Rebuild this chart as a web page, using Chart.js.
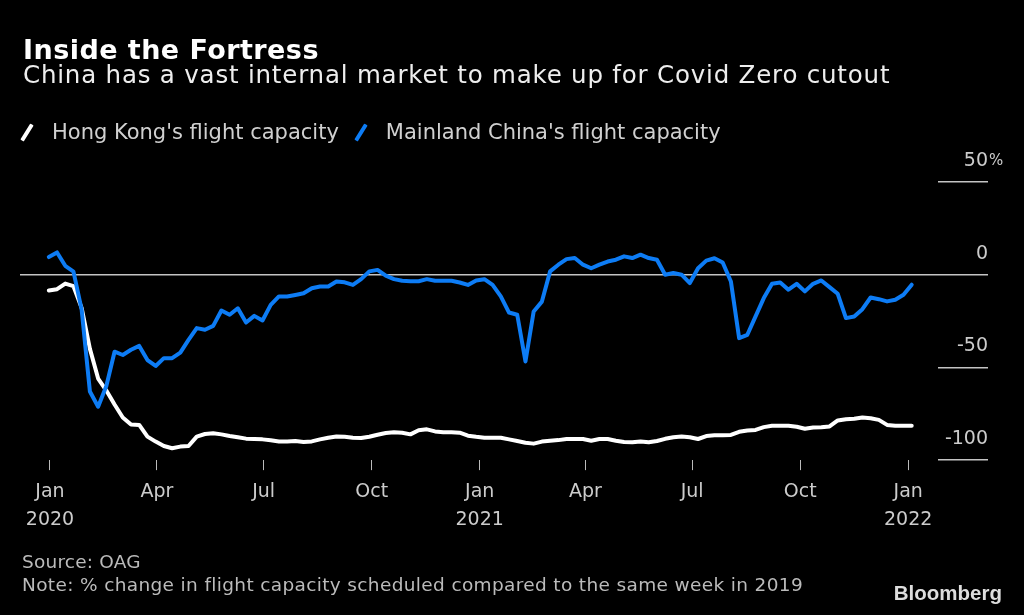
<!DOCTYPE html>
<html><head><meta charset="utf-8">
<script src="https://cdn.jsdelivr.net/npm/chart.js@4.4.0/dist/chart.umd.min.js"></script>
<style>
html,body{margin:0;padding:0;background:#000;}
body{width:1024px;height:615px;position:relative;overflow:hidden;font-family:'DejaVu Sans',sans-serif;}
.t{position:absolute;white-space:nowrap;line-height:1;}
#title{left:23px;top:36px;font-size:27px;font-weight:bold;color:#fff;letter-spacing:0.45px;}
#sub{left:23px;top:63px;font-size:24.5px;color:#eee;letter-spacing:0.8px;}
#legend{left:20px;top:122px;font-size:21px;color:#d0d0d0;display:flex;}
.item{display:flex;align-items:center;margin-right:15px;height:21px}
.sw{width:14px;height:21px;position:relative;margin-right:18px}
.sw i{position:absolute;left:5px;top:1px;width:4px;height:19px;transform:rotate(32deg);border-radius:1px}
#source{left:22px;top:553px;font-size:18.5px;color:#bbb;letter-spacing:0.2px}
#note{left:22px;top:576px;font-size:18.5px;color:#bbb;letter-spacing:0.35px}
#logo{right:22px;top:583px;font-size:20.5px;font-weight:bold;color:#ddd;font-family:'Liberation Sans',Arial,sans-serif}
canvas{position:absolute;left:0;top:0}
</style></head>
<body>
<canvas id="c" width="1024" height="615" style="width:1024px;height:615px"></canvas>
<div class="t" id="title">Inside the Fortress</div>
<div class="t" id="sub">China has a vast internal market to make up for Covid Zero cutout</div>
<div class="t" id="legend"></div>
<div class="t" id="source">Source: OAG</div>
<div class="t" id="note">Note: % change in flight capacity scheduled compared to the same week in 2019</div>
<div class="t" id="logo">Bloomberg</div>
<script>
// ---- data ----
const seriesNames = ["Hong Kong's flight capacity", "Mainland China's flight capacity"];
const firstWeek = '2019-12-31';   // weekly observations start here
const hkValues = [
  -8.5, -7.8, -4.8, -6.2, -18, -40, -56, -62.5, -70, -77,
  -80.8, -81, -87.3, -90, -92.4, -93.6, -92.7, -92.4, -87.3, -85.9,
  -85.5, -86.1, -87.0, -87.7, -88.4, -88.6, -88.8, -89.3, -89.9, -90.0,
  -89.7, -90.2, -89.9, -88.8, -87.9, -87.2, -87.4, -87.9, -88.1, -87.4,
  -86.3, -85.4, -85.0, -85.2, -86.1, -83.9, -83.4, -84.5, -85.0, -85.0,
  -85.2, -86.8, -87.4, -87.9, -87.9, -87.9, -88.8, -89.7, -90.6, -91.1,
  -90.0, -89.5, -89.2, -88.6, -88.6, -88.6, -89.5, -88.6, -88.6, -89.5,
  -90.2, -90.4, -89.9, -90.4, -89.7, -88.5, -87.7, -87.3, -87.7, -88.6,
  -87.0, -86.6, -86.6, -86.4, -84.7, -84.0, -83.7, -82.2, -81.5, -81.5,
  -81.5, -82.0, -83.1, -82.4, -82.2, -81.8, -78.6, -77.9, -77.7, -77.0,
  -77.4, -78.3, -81.0, -81.5, -81.5, -81.5
];
const cnValues = [
  9.5, 12.0, 4.8, 1.7, -19, -63, -71.2, -60, -41.5, -43.3,
  -40.5, -38.4, -46, -49.2, -45, -45, -42, -35.1, -28.8, -29.7,
  -27.6, -19.3, -21.6, -18.1, -25.8, -22.2, -24.7, -16.3, -11.7, -11.7,
  -10.9, -10.0, -7.3, -6.4, -6.4, -3.7, -4.1, -5.5, -2.4, 1.8,
  2.6, -0.5, -2.4, -3.3, -3.5, -3.5, -2.4, -3.3, -3.3, -3.3,
  -4.2, -5.5, -3.1, -2.4, -5.5, -11.7, -20.4, -21.6, -46.8, -19.8,
  -14.5, 1.8, 5.4, 8.4, 9.0, 5.4, 3.5, 5.4, 7.1, 8.1,
  9.9, 9.0, 10.8, 9.0, 8.1, 0, 0.9, 0, -4.5, 3.5,
  7.6, 8.9, 6.6, -3.7, -34.2, -32.4, -22.5, -12.6, -4.9, -4.2,
  -8.1, -4.9, -9.0, -4.9, -3.1, -6.7, -10.3, -23.4, -22.5, -18.6,
  -12.3, -13.2, -14.4, -13.5, -10.8, -5.4
];
const tickDates = ['2020-01-01','2020-04-01','2020-07-01','2020-10-01','2021-01-01','2021-04-01','2021-07-01','2021-10-01','2022-01-01'];
const tickLabels = [['Jan','2020'],'Apr','Jul','Oct',['Jan','2021'],'Apr','Jul','Oct',['Jan','2022']];
const yTicks = [-100, -50, 0, 50];
const seriesColors = ['#ffffff', '#0d7cf5'];

// ---- helpers ----
const DAY = 86400000;
const origin = Date.UTC(2020, 0, 1);
const dayOf = s => (Date.parse(s + 'T00:00:00Z') - origin) / DAY;
const weekDays = hkValues.map((_, i) => dayOf(firstWeek) + 7 * i);
const tickDays = tickDates.map(dayOf);
const toXY = vals => vals.map((v, i) => ({x: weekDays[i], y: v}));

Chart.defaults.font.family = "'DejaVu Sans', sans-serif";

const pctPlugin = {
  id: 'pct',
  afterDraw(chart) {
    const ys = chart.scales.y;
    const ctx = chart.ctx;
    const py = ys.getPixelForValue(yTicks[yTicks.length - 1]) + ys.options.ticks.labelOffset;
    ctx.save();
    ctx.fillStyle = '#ccc';
    ctx.font = "15px 'DejaVu Sans'";
    ctx.textAlign = 'left';
    ctx.textBaseline = 'middle';
    ctx.fillText('%', ys.left + ys.options.ticks.padding + 1, py);
    ctx.restore();
  }
};

const chart = new Chart(document.getElementById('c'), {
  type: 'line',
  data: {
    datasets: [
      {label: seriesNames[0], data: toXY(hkValues), borderColor: seriesColors[0], order: 1},
      {label: seriesNames[1], data: toXY(cnValues), borderColor: seriesColors[1], order: 0}
    ]
  },
  options: {
    responsive: false,
    animation: false,
    layout: {padding: {left: 20, right: -64, top: 182, bottom: 73}},
    elements: {
      line: {borderWidth: 4, tension: 0, borderJoinStyle: 'round', borderCapStyle: 'round', fill: false},
      point: {radius: 0, hoverRadius: 0}
    },
    plugins: {legend: {display: false}, tooltip: {enabled: false}},
    scales: {
      x: {
        type: 'linear',
        min: -25.55,
        max: 756.4,
        afterBuildTicks: axis => { axis.ticks = tickDays.map(v => ({value: v})); },
        ticks: {
          autoSkip: false, maxRotation: 0, minRotation: 0, padding: 8,
          color: '#ccc', font: {size: 19, lineHeight: 1.47},
          callback: (v, i) => tickLabels[i]
        },
        grid: {display: true, drawOnChartArea: false, drawTicks: true, tickLength: 10, tickColor: '#bbb', tickWidth: 1},
        border: {display: false}
      },
      y: {
        type: 'linear',
        position: 'right',
        min: -100,
        max: 50,
        afterBuildTicks: axis => { axis.ticks = yTicks.map(v => ({value: v})); },
        ticks: {
          mirror: true, padding: 50, labelOffset: -21,
          color: '#ccc', font: {size: 19},
          callback: v => String(v)
        },
        grid: {
          color: c => (c.tick && c.tick.value === 0) ? '#c4c4c4' : 'rgba(0,0,0,0)',
          lineWidth: 1.5,
          drawTicks: true, tickLength: 50, tickColor: '#c4c4c4', tickWidth: 1.5
        },
        border: {display: false}
      }
    }
  },
  plugins: [pctPlugin]
});

// HTML legend built from the chart's datasets
const legendEl = document.getElementById('legend');
chart.data.datasets.forEach(ds => {
  const item = document.createElement('div');
  item.className = 'item';
  const sw = document.createElement('span');
  sw.className = 'sw';
  const bar = document.createElement('i');
  bar.style.background = ds.borderColor;
  sw.appendChild(bar);
  const tx = document.createElement('span');
  tx.textContent = ds.label;
  item.appendChild(sw);
  item.appendChild(tx);
  legendEl.appendChild(item);
});
</script>
</body></html>
